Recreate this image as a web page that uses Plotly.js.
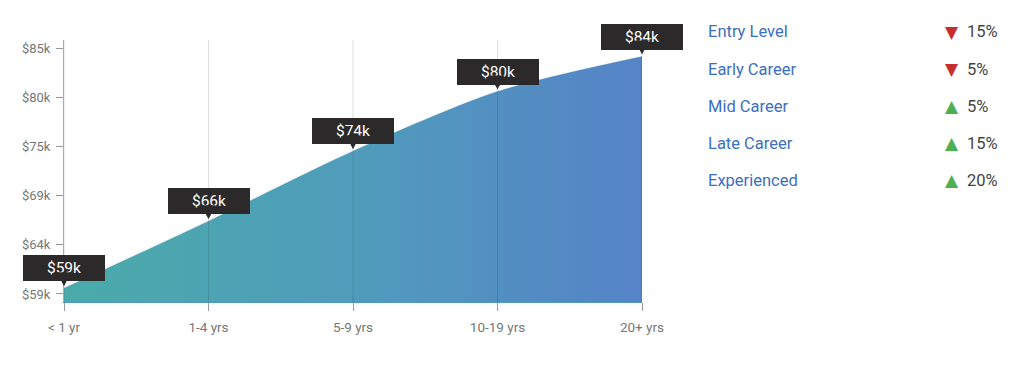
<!DOCTYPE html>
<html>
<head>
<meta charset="utf-8">
<script src="https://cdn.plot.ly/plotly-3.0.1.min.js"></script>
<style>
html,body{margin:0;padding:0;background:#fff;}
#chart{width:1024px;height:366px;}
</style>
</head>
<body>
<div id="chart"></div>
<script>
// ---- data ----
var categories = ['< 1 yr', '1-4 yrs', '5-9 yrs', '10-19 yrs', '20+ yrs'];
var salaries = [59.6, 66.7, 74.1, 80.4, 84.1];          // $k
var salaryLabels = ['$59k', '$66k', '$74k', '$80k', '$84k'];
var yTickVals = [59, 64.2, 69.4, 74.6, 79.8, 85];
var yTickText = ['$59k', '$64k', '$69k', '$75k', '$80k', '$85k'];
var stages = ['Entry Level', 'Early Career', 'Mid Career', 'Late Career', 'Experienced'];
var changes = [-15, -5, 5, 15, 20];                     // percent

// ---- layout geometry ----
var W = 1024, H = 366;
var M = {l: 64, r: 382, t: 40, b: 64};
var plotW = W - M.l - M.r, plotH = H - M.t - M.b;
function px2paperX(px){ return (px - M.l) / plotW; }
function px2paperY(py){ return (H - M.b - py) / plotH; }

var FONT = 'Roboto, "Open Sans", sans-serif';

var trace = {
  type: 'scatter',
  mode: 'lines',
  x: categories,
  y: salaries,
  line: {shape: 'spline', smoothing: 0.8, color: 'rgba(70,140,180,0.35)', width: 1},
  fill: 'tozeroy',
  fillgradient: {
    type: 'horizontal',
    colorscale: [[0, '#4aaba9'], [0.5, '#509cbb'], [1, '#5583c8']]
  },
  hoverinfo: 'skip'
};

var annotations = [];
// value callouts
for (var i = 0; i < categories.length; i++) {
  annotations.push({
    x: categories[i], y: salaries[i], xref: 'x', yref: 'y',
    text: salaryLabels[i],
    showarrow: true, ax: 0, ay: -20, axref: 'pixel', ayref: 'pixel',
    arrowhead: 2, arrowsize: 0.7, arrowwidth: 4, arrowcolor: '#2b2929',
    standoff: 2,
    bgcolor: '#2b2929', bordercolor: '#2b2929', borderwidth: 1, borderpad: 4,
    width: 72, height: 16,
    font: {family: FONT, size: 15.5, color: '#ffffff'}
  });
}
// right-hand panel
var rowY = [32, 69, 106, 143, 180];
for (var j = 0; j < stages.length; j++) {
  var yp = px2paperY(rowY[j]);
  annotations.push({
    xref: 'paper', yref: 'paper', x: px2paperX(706), y: yp,
    xanchor: 'left', yanchor: 'middle', showarrow: false,
    text: stages[j], font: {family: FONT, size: 16.5, color: '#3b6fc2'}
  });
  var up = changes[j] > 0;
  annotations.push({
    xref: 'paper', yref: 'paper', x: px2paperX(952), y: yp,
    xanchor: 'center', yanchor: 'middle', showarrow: false,
    text: up ? '▲' : '▼',
    font: {family: 'DejaVu Sans', size: 17, color: up ? '#4caf50' : '#c62d2d'}
  });
  annotations.push({
    xref: 'paper', yref: 'paper', x: px2paperX(965), y: yp,
    xanchor: 'left', yanchor: 'middle', showarrow: false,
    text: Math.abs(changes[j]) + '%',
    font: {family: FONT, size: 16.5, color: '#444444'}
  });
}

// vertical grid lines drawn over the area
var shapes = categories.map(function(c){
  return {type: 'line', xref: 'x', yref: 'paper', x0: c, x1: c, y0: 0, y1: 1,
          line: {color: 'rgba(0,0,0,0.13)', width: 1}, layer: 'above'};
});

var layout = {
  width: W, height: H,
  margin: M,
  paper_bgcolor: '#ffffff', plot_bgcolor: '#ffffff',
  showlegend: false,
  font: {family: FONT, size: 13, color: '#777777'},
  xaxis: {
    type: 'category', range: [0, 4],
    showgrid: false, zeroline: false,
    showline: true, linecolor: '#4e96bd', linewidth: 1,
    ticks: 'outside', ticklen: 8, tickcolor: '#999999', tickwidth: 1,
    tickfont: {family: FONT, size: 13.5, color: '#777777'},
    ticklabelstandoff: 5,
    fixedrange: true
  },
  yaxis: {
    range: [58.15, 85.85],
    tickvals: yTickVals, ticktext: yTickText,
    showgrid: false, zeroline: false,
    showline: true, linecolor: '#aaaaaa', linewidth: 1,
    ticks: 'outside', ticklen: 7, tickcolor: '#999999', tickwidth: 1,
    tickfont: {family: FONT, size: 13, color: '#777777'},
    ticklabelstandoff: 3,
    fixedrange: true
  },
  annotations: annotations,
  shapes: shapes
};

Plotly.newPlot('chart', [trace], layout, {displayModeBar: false, staticPlot: true});
</script>
</body>
</html>
